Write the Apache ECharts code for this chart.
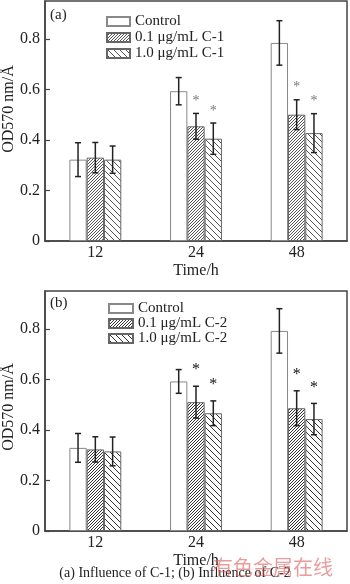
<!DOCTYPE html>
<html>
<head>
<meta charset="utf-8">
<script src="https://cdn.jsdelivr.net/npm/echarts@6/dist/echarts.min.js"></script>
<style>html,body{margin:0;padding:0;background:#fff}#c{width:350px;height:584px}</style>
</head>
<body>
<div id="c"></div>
<script>
// ---- data ----
const categories = ['12', '24', '48'];
const yTicks = [0, 0.2, 0.4, 0.6, 0.8];
const yName = 'OD570 nm/Å';
const xName = 'Time/h';

const namesA = ['Control', '0.1 μg/mL C-1', '1.0 μg/mL C-1'];
const ctrlA = [0.322, 0.593, 0.784];
const ctrlAErr = [0.067, 0.054, 0.088];
const lowA = [0.330, 0.454, 0.500];
const lowAErr = [0.060, 0.051, 0.059];
const highA = [0.322, 0.405, 0.427];
const highAErr = [0.054, 0.062, 0.077];
const starsLowA = [0, 1, 1];
const starsHighA = [0, 1, 1];

const namesB = ['Control', '0.1 μg/mL C-2', '1.0 μg/mL C-2'];
const ctrlB = [0.329, 0.592, 0.792];
const ctrlBErr = [0.057, 0.047, 0.088];
const lowB = [0.323, 0.510, 0.486];
const lowBErr = [0.050, 0.063, 0.069];
const highB = [0.315, 0.466, 0.443];
const highBErr = [0.057, 0.049, 0.062];
const starsLowB = [0, 1, 1];
const starsHighB = [0, 1, 1];

const caption = '(a) Influence of C-1; (b) Influence of C-2';
const watermark = '有色金属在线';

// ---- styling helpers ----
const FONT = 'Liberation Serif';
const BW = 17.3;

function hatch(dir, gap, color, lw) {
  const c = document.createElement('canvas');
  c.width = c.height = gap;
  const g = c.getContext('2d');
  g.fillStyle = '#fff'; g.fillRect(0, 0, gap, gap);
  g.strokeStyle = color; g.lineWidth = lw;
  g.beginPath();
  if (dir > 0) {
    g.moveTo(0, gap); g.lineTo(gap, 0);
    g.moveTo(-1, 1); g.lineTo(1, -1);
    g.moveTo(gap - 1, gap + 1); g.lineTo(gap + 1, gap - 1);
  } else {
    g.moveTo(0, 0); g.lineTo(gap, gap);
    g.moveTo(-1, gap - 1); g.lineTo(1, gap + 1);
    g.moveTo(gap - 1, -1); g.lineTo(gap + 1, 1);
  }
  g.stroke();
  return { image: c, repeat: 'repeat' };
}

const fills = {
  A: ['#ffffff', hatch(1, 3, '#555', 1), hatch(-1, 6, '#555', 1)],
  B: ['#ffffff', hatch(1, 3, '#333', 1), hatch(-1, 6, '#333', 1)]
};

function errRender(idx, starColor, starOff, starSize) {
  return function (params, api) {
    const x = api.value(0), v = api.value(1), e = api.value(2), s = api.value(3);
    const c = api.coord([x, v]);
    const t = api.coord([x, v + e]);
    const b = api.coord([x, v - e]);
    const cx = c[0] + (idx - 1) * BW;
    const st = { stroke: '#222', lineWidth: 1.5 };
    const children = [
      { type: 'line', shape: { x1: cx, y1: t[1], x2: cx, y2: b[1] }, style: st },
      { type: 'line', shape: { x1: cx - 3, y1: t[1], x2: cx + 3, y2: t[1] }, style: st },
      { type: 'line', shape: { x1: cx - 3, y1: b[1], x2: cx + 3, y2: b[1] }, style: st }
    ];
    if (s) {
      children.push({ type: 'text', style: { text: '*', x: cx, y: t[1] - starOff, align: 'center', verticalAlign: 'middle', fontSize: starSize, fontFamily: FONT, fill: starColor } });
    }
    return { type: 'group', children: children };
  };
}

function panelSeries(p, names, vals, errs, stars, starColor, starOff, starSize) {
  const out = [];
  vals.forEach((arr, i) => {
    out.push({
      type: 'bar', name: names[i], xAxisIndex: p, yAxisIndex: p,
      data: arr, barWidth: BW, barGap: '0%',
      itemStyle: { color: fills[p ? 'B' : 'A'][i], borderColor: i === 0 ? '#888' : '#666', borderWidth: 1 },
      silent: true
    });
  });
  vals.forEach((arr, i) => {
    out.push({
      type: 'custom', xAxisIndex: p, yAxisIndex: p, z: 10, silent: true,
      renderItem: errRender(i, starColor, starOff, starSize),
      data: arr.map((v, k) => [k, v, errs[i][k], stars[i][k]])
    });
  });
  return out;
}

function xAx(idx) {
  return {
    type: 'category', gridIndex: idx, data: categories,
    name: xName, nameLocation: 'middle', nameGap: 22, nameMoveOverlap: false,
    nameTextStyle: { fontFamily: FONT, fontSize: 16, color: '#222' },
    axisLine: { lineStyle: { color: '#444', width: 1.5 } },
    axisTick: { show: false },
    axisLabel: { fontFamily: FONT, fontSize: 16, color: '#222', margin: 4 }
  };
}
function yAx(idx) {
  return {
    type: 'value', gridIndex: idx, min: 0, max: 0.95, interval: 0.2,
    axisLine: { show: true, lineStyle: { color: '#444', width: 1.5 } },
    axisTick: { show: true, inside: true, length: 5, lineStyle: { color: '#444', width: 1.2 } },
    splitLine: { show: false },
    axisLabel: {
      fontFamily: FONT, fontSize: 16, color: '#222', margin: 5, showMaxLabel: false,
      formatter: v => (yTicks.some(t => Math.abs(t - v) < 1e-6) ? (v === 0 ? '0' : v.toFixed(1)) : '')
    }
  };
}

const legendText = { fontFamily: FONT, fontSize: 15, color: '#222', lineHeight: 15 };

const option = {
  backgroundColor: '#fff',
  animation: false,
  grid: [
    { left: 45, right: 3, top: 1, height: 240, show: true, borderColor: '#444', borderWidth: 1.5, outerBoundsMode: 'none', containLabel: false },
    { left: 45, right: 3, top: 291, height: 240, show: true, borderColor: '#444', borderWidth: 1.5, outerBoundsMode: 'none', containLabel: false }
  ],
  xAxis: [xAx(0), xAx(1)],
  yAxis: [yAx(0), yAx(1)],
  legend: [
    { orient: 'vertical', left: 101, top: 9, itemWidth: 23, itemHeight: 9, itemGap: 1, selectedMode: false,
      data: namesA, textStyle: legendText, icon: 'rect' },
    { orient: 'vertical', left: 103, top: 296, itemWidth: 24, itemHeight: 9, itemGap: 0, selectedMode: false,
      data: namesB, textStyle: legendText, icon: 'rect' }
  ],
  graphic: [
    { type: 'text', x: 9, y: 109, rotation: Math.PI / 2, style: { text: yName, font: '16px ' + FONT, fill: '#222', align: 'center', verticalAlign: 'middle' } },
    { type: 'text', x: 9, y: 407, rotation: Math.PI / 2, style: { text: yName, font: '16px ' + FONT, fill: '#222', align: 'center', verticalAlign: 'middle' } },
    { type: 'text', left: 50, top: 8, style: { text: '(a)', font: '15px ' + FONT, fill: '#222' } },
    { type: 'text', left: 50, top: 296, style: { text: '(b)', font: '15px ' + FONT, fill: '#222' } },
    { type: 'text', left: 'center', top: 566, style: { text: caption, font: '14px ' + FONT, fill: '#222' } },
    { type: 'text', left: 213, top: 557, z: 100, style: { text: watermark, font: '20px "Noto Sans CJK SC"', fill: 'rgba(220,90,90,0.6)' } }
  ],
  series: [].concat(
    panelSeries(0, namesA, [ctrlA, lowA, highA], [ctrlAErr, lowAErr, highAErr], [[0,0,0], starsLowA, starsHighA], '#777', 12, 14),
    panelSeries(1, namesB, [ctrlB, lowB, highB], [ctrlBErr, lowBErr, highBErr], [[0,0,0], starsLowB, starsHighB], '#111', 16, 16)
  )
};

const chart = echarts.init(document.getElementById('c'), null, { renderer: 'canvas' });
chart.setOption(option);
</script>
</body>
</html>
